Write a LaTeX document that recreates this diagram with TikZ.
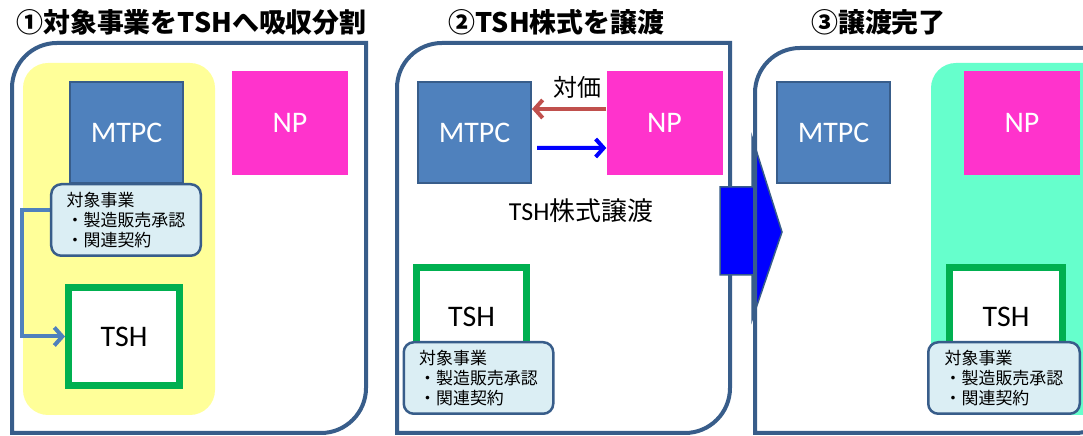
\documentclass[tikz,border=0pt]{standalone}
\usepackage{fontspec}
\setmainfont{Carlito}
\newfontfamily\jpfont{Noto Sans CJK JP}
\usetikzlibrary{arrows.meta}
\definecolor{frameblue}{HTML}{385D8A}
\definecolor{mtpcblue}{HTML}{4F81BD}
\definecolor{npmagenta}{HTML}{FF33CC}
\definecolor{tshgreen}{HTML}{00B050}
\definecolor{calloutfill}{HTML}{DBEEF4}
\definecolor{paleyellow}{HTML}{FFFF99}
\definecolor{aqua}{HTML}{66FFCC}
\definecolor{priceRed}{HTML}{C0504D}
\newcommand{\bizlist}{対象事業\\・製造販売承認\\・関連契約}
% frame with two round corners: left, right, bottom, top
\newcommand{\diagframe}[4]{%
  \draw[panel] (#1,#3) -- (#1,#4-45) arc[start angle=180,end angle=90,radius=45]
    -- (#2,#4) -- (#2,#3+45) arc[start angle=0,end angle=-90,radius=45] -- cycle;}

\begin{document}
\begin{tikzpicture}[x=1bp,y=1bp,
	panel/.style={draw=frameblue, line width=4bp},
	steptitle/.style={font=\jpfont\bfseries\fontsize{27}{32}\selectfont},
	mtpcbox/.style={fill=mtpcblue, draw=frameblue, line width=2bp, minimum width=113bp, minimum height=101bp,
		inner sep=0pt, text=white, font=\fontsize{30}{36}\selectfont},
	npbox/.style={fill=npmagenta, minimum width=116bp, minimum height=104bp, inner sep=0pt,
		text=white, font=\fontsize{30}{36}\selectfont},
	tshbox/.style={fill=white, draw=tshgreen, line width=7bp, minimum width=111bp, minimum height=98bp,
		inner sep=0pt, font=\fontsize{30}{36}\selectfont},
	callout/.style={fill=calloutfill, draw=frameblue, line width=2.5bp, rounded corners=10bp,
		minimum width=149.5bp, minimum height=71.5bp, align=left, inner sep=0pt,
		font=\jpfont\fontsize{17}{20}\selectfont},
	moveline/.style={line width=4bp, -{Straight Barb[length=8bp,width=18bp]}}]
	\useasboundingbox (0,0) rectangle (1083,436);
	\fill[white] (0,0) rectangle (1083,436);

	% {{{ step 1
	\node[steptitle] (titleA) at (191.5,414) {①対象事業をTSHへ吸収分割};
	\diagframe{12}{366}{3}{393}
	\fill[paleyellow, rounded corners=25bp] (23,21) rectangle (215,373);
	\node[mtpcbox] (mtpcA) at (126.5,303.5) {MTPC};
	\node[npbox] (npA) at (290,313) {NP};
	\node[tshbox] (tshA) at (124,99.5) {TSH};
	\draw[moveline, mtpcblue] (50,226) -- (22,226) |- (tshA.west);
	\node[callout] (bizA) at (126,216) {\bizlist};
	% }}}

	% {{{ step 2
	\node[steptitle] (titleB) at (556.5,414) {②TSH株式を譲渡};
	\diagframe{397}{730}{3}{393}
	\node[mtpcbox] (mtpcB) at (474.5,303.5) {MTPC};
	\node[npbox] (npB) at (664.5,313) {NP};
	\node[font=\jpfont\fontsize{24}{28}\selectfont] (price) at (577,349) {対価};
	\draw[moveline, priceRed] ([yshift=14bp]npB.west) -- ([yshift=14bp]npB.west -| mtpcB.east);
	\draw[moveline, blue] ([xshift=5bp,yshift=-15.5bp]mtpcB.east) -- ([yshift=-25bp]npB.west);
	\node[font=\fontsize{26}{30}\selectfont] (share) at (581,225) {TSH{\jpfont 株式譲渡}};
	\node[tshbox, minimum width=110bp] (tshB) at (471.5,119.5) {TSH};
	\node[callout] (bizB) at (478.5,58) {\bizlist};
	% }}}

	% big arrow
	\filldraw[fill=blue, draw=frameblue, line width=1.5bp]
		(720,161) -- (752,161) -- (752,116) -- (782,204) -- (752,299) -- (752,249) -- (720,249) -- cycle;

	% {{{ step 3
	\node[steptitle] (titleC) at (878.5,414) {③譲渡完了};
	\diagframe{755}{1120}{3}{388}
	\node[mtpcbox] (mtpcC) at (833.5,303.5) {MTPC};
	\fill[aqua, rounded corners=25bp] (931,21) rectangle (1140,373);
	\node[npbox] (npC) at (1022,313) {NP};
	\node[tshbox, minimum width=113bp] (tshC) at (1006,119.5) {TSH};
	\node[callout, minimum width=151.5bp] (bizC) at (1004,58) {\bizlist};
	% }}}
\end{tikzpicture}
\end{document}
